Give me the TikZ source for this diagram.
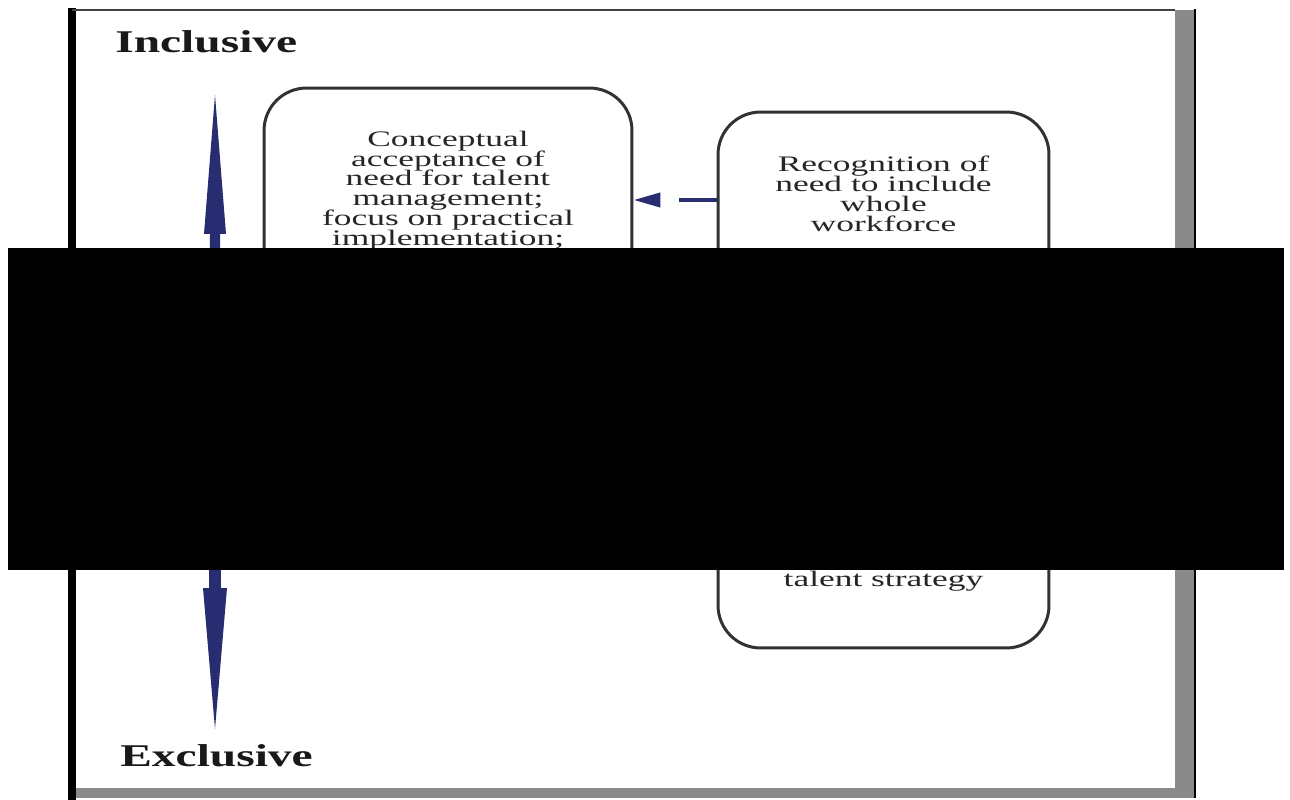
\documentclass[tikz,border=0pt]{standalone}
\usepackage{fontspec}
\setmainfont{Liberation Serif}
\newfontfamily\widefont{Liberation Serif}[FakeStretch=1.6]
\newfontfamily\labelfont{Liberation Serif}[FakeStretch=1.5]
\newcommand\stagefont{\widefont\fontsize{12.6pt}{11.3pt}\selectfont\lineskiplimit=-20pt\relax}
\usetikzlibrary{positioning,arrows.meta}
\definecolor{arrownavy}{RGB}{40,44,112}
\definecolor{boxgray}{RGB}{50,50,50}
\definecolor{framegray}{RGB}{138,138,138}
\begin{document}
\begin{tikzpicture}[x=0.02cm,y=-0.02cm,
  stage/.style={draw=boxgray,line width=1.7pt,rounded corners=0.85cm,inner sep=0pt},
  stagetext/.style={inner sep=0pt,align=center,text=black!85,font=\stagefont},
  endlabel/.style={inner sep=0pt,text=black!90,font=\labelfont\bfseries\fontsize{18pt}{18pt}\selectfont}]
\useasboundingbox (0,0) rectangle (1290,800);
% frame
\fill[white] (72,9) rectangle (1195,797);
\fill[framegray] (1175,10) rectangle (1194,797);
\fill[framegray] (74,788) rectangle (1194,798);
\draw[black,line width=1pt] (1195,9) -- (1195,798);
\fill[black] (68,8) rectangle (76,800);
\draw[black!75,line width=1.5pt] (72,10) -- (1175,10);
% scale arrow
\fill[arrownavy] (215,95) -- (226,234) -- (220,234) -- (221,588) -- (227,588) -- (215,729)
  -- (203,588) -- (209,588) -- (210,234) -- (204,234) -- cycle;
\node[endlabel,anchor=base west] (incl) at (115,53) {Inclusive};
\node[endlabel,anchor=base west] (excl) at (120,766) {Exclusive};
% stages
\node[stage,minimum width=7.36cm,minimum height=8.64cm] (lbox) at (448,304) {};
\node[stage,minimum width=6.62cm,minimum height=10.72cm] (rbox) at (883.5,380) {};
\node[stagetext,below=0.88cm of lbox.north] (ltext) {Conceptual\\acceptance of\\need for talent\\management;\\focus on practical\\implementation;};
\node[stagetext,below=0.9cm of rbox.north] (rtext) {Recognition of\\need to include\\whole\\workforce};
\node[stagetext,above=1.16cm of rbox.south] (rtail) {talent strategy};
\coordinate (dashy) at (0,200);
\draw[arrownavy,line width=2.3pt,dash pattern=on 0.76cm off 0.4cm,-{Triangle[length=0.54cm,width=0.28cm]}]
  (rbox.west |- dashy) -- (lbox.east |- dashy);
% cover
\fill[black] (8,248) rectangle (1284,570);
\end{tikzpicture}
\end{document}
